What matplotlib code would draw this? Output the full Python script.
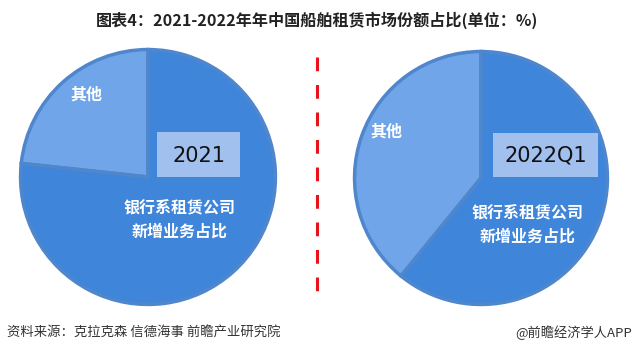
import matplotlib
matplotlib.use("Agg")
import matplotlib.pyplot as plt
from matplotlib.patches import Rectangle

plt.rcParams['font.family'] = ['Noto Sans CJK SC', 'DejaVu Sans']

W, H = 636, 354
periods = ["2021", "2022Q1"]
categories = ["其他", "银行系租赁公司\n新增业务占比"]
other_share = [23.3, 39.1]
bank_share = [76.7, 60.9]

title = "图表4：2021-2022年年中国船舶租赁市场份额占比(单位：%)"
source = "资料来源：克拉克森 信德海事 前瞻产业研究院"
brand = "@前瞻经济学人APP"

fig = plt.figure(figsize=(W / 100, H / 100), dpi=100)
fig.patch.set_facecolor("white")

colors = ["#70A5EA", "#3F85DA"]
edge = "#4F86CC"

# pie geometry in pixels: (cx, cy, r)
pies = [(148, 177, 130), (481, 178, 129)]
other_lbl = [(86, 95), (386, 132)]
bank_lbl = [(180, 220), (528, 225)]
boxes = [(157, 132, 83, 45), (493, 133, 105, 44)]

for i, (cx, cy, r) in enumerate(pies):
    ax = fig.add_axes([(cx - r) / W, (H - cy - r) / H, 2 * r / W, 2 * r / H])
    ax.pie([other_share[i], bank_share[i]], colors=colors, startangle=90,
           counterclock=True, radius=1,
           wedgeprops=dict(edgecolor=edge, linewidth=2.5))
    ax.set_xlim(-1.02, 1.02)
    ax.set_ylim(-1.02, 1.02)
    ax.set_aspect("auto")
    ax.axis("off")

# overlay axes in pixel coords
ov = fig.add_axes([0, 0, 1, 1])
ov.set_xlim(0, W)
ov.set_ylim(H, 0)
ov.axis("off")
ov.patch.set_alpha(0)

for i in range(2):
    x, y = other_lbl[i]
    ov.text(x, y, categories[0], color="white", fontsize=11.5, fontweight="bold",
            ha="center", va="center")
    x, y = bank_lbl[i]
    ov.text(x, y, categories[1], color="white", fontsize=11.5, fontweight="bold",
            ha="center", va="center", linespacing=1.55)
    bx, by, bw, bh = boxes[i]
    ov.add_patch(Rectangle((bx, by), bw, bh, facecolor="#A7C4F0", edgecolor="none", alpha=0.95))
    ov.text(bx + bw / 2, by + bh / 2 + 1, periods[i], color="#111111", fontsize=15,
            ha="center", va="center", family=["DejaVu Sans"])

# red dashed divider
ov.plot([317, 317], [57, 300], color="#E8141B", linewidth=2.2, linestyle=(0, (4.5, 4.5)))

ov.text(96, 20, title, fontsize=11.6, fontweight="bold", ha="left", va="center", color="#222222")
ov.text(7, 333, source, fontsize=9.6, ha="left", va="center", color="#333333")
ov.text(632, 333, brand, fontsize=9.5, ha="right", va="center", color="#333333")

fig.savefig("out.png", dpi=100, facecolor="white")
